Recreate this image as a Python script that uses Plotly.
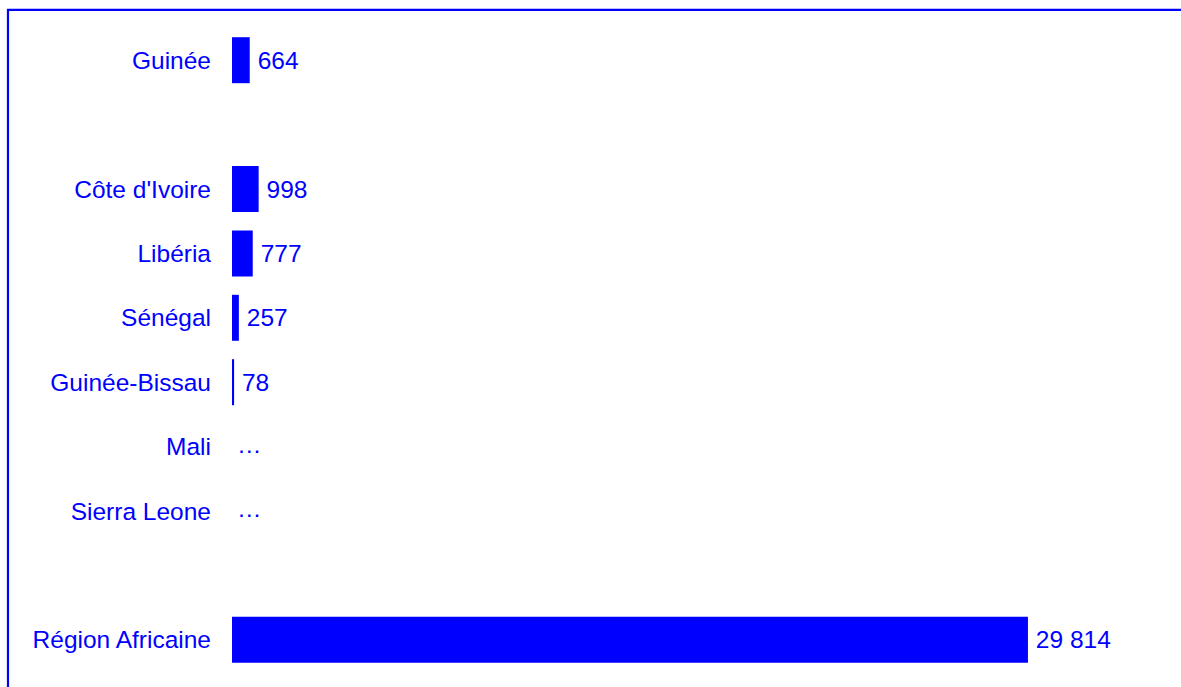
import plotly.graph_objects as go

# Rows from top to bottom; blank strings are spacer rows between groups
countries = ["Guinée", " ", "Côte d'Ivoire", "Libéria", "Sénégal",
             "Guinée-Bissau", "Mali", "Sierra Leone", "  ", "Région Africaine"]
values = [664, None, 998, 777, 257, 78, None, None, None, 29814]
missing = ["Mali", "Sierra Leone"]

BLUE = "#0000FF"
FONT = "Liberation Sans, Arial, sans-serif"
FS = 24.5


def fmt(v):
    return f"{v:,}".replace(",", " ")


labels = ["\u2009" + fmt(v) if v is not None else "" for v in values]

fig = go.Figure()
fig.add_trace(go.Bar(
    x=values, y=countries, orientation="h",
    marker=dict(color=BLUE, line=dict(width=0)),
    text=labels, textposition="outside", cliponaxis=False,
    textfont=dict(color=BLUE, size=FS, family=FONT),
    hoverinfo="skip",
))
fig.add_trace(go.Scatter(
    x=[0] * len(missing), y=missing, mode="text",
    text=["\u2009…"] * len(missing), textposition="middle right",
    textfont=dict(color=BLUE, size=FS, family=FONT),
    cliponaxis=False, hoverinfo="skip",
))

# Outer frame in blue, running past the right and bottom edges
fig.add_shape(type="rect", xref="paper", yref="paper",
              x0=-0.2414, x1=1.2, y0=-0.2, y1=1.028,
              line=dict(color=BLUE, width=2.2), layer="above")

fig.update_layout(
    width=1181, height=687,
    margin=dict(l=232, r=21, t=28, b=15),
    paper_bgcolor="white", plot_bgcolor="white",
    showlegend=False, bargap=0.286,
    font=dict(family=FONT, size=FS, color=BLUE),
    xaxis=dict(range=[0, 34760], visible=False, showgrid=False, zeroline=False),
    yaxis=dict(categoryorder="array", categoryarray=countries,
               autorange="reversed", showgrid=False, zeroline=False,
               showline=False, ticks="", ticklabelstandoff=20,
               tickfont=dict(color=BLUE, size=FS, family=FONT)),
)

fig.write_html("out.html")
